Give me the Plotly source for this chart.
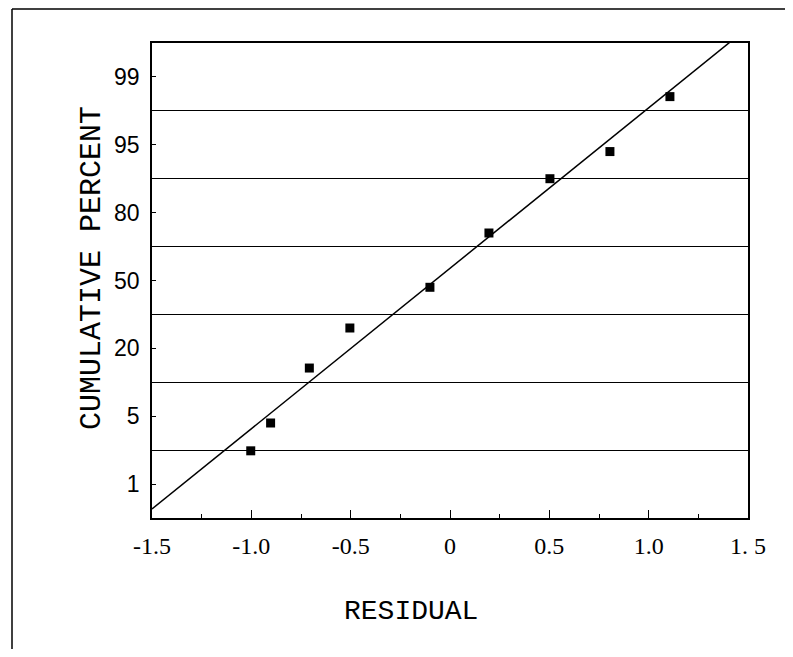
import plotly.graph_objects as go

# ---- data ----
residual = [-1.003, -0.903, -0.708, -0.504, -0.101, 0.196, 0.503, 0.805, 1.107]
# position on the (evenly spaced) probability scale, 0 = "1", 6 = "99"
prob_pos = [0.49, 0.90, 1.71, 2.30, 2.90, 3.70, 4.50, 4.90, 5.71]
y_tick_pos = [0, 1, 2, 3, 4, 5, 6]
y_tick_text = ["1", "5", "20", "50", "80", "95", "99"]
x_tick_vals = [-1.5, -1.0, -0.5, 0, 0.5, 1.0, 1.5]
x_tick_text = ["-1.5", "-1.0", "-0.5", "0", "0.5", "1.0", "1. 5"]
fit_intercept = 3.18
fit_slope = 2.365
x_range = [-1.5, 1.5]
y_range = [-0.5, 6.5]

OFF = 8  # page body margin
W, H = 793 - 2 * OFF, 657 - 2 * OFF
ml, mt = 152 - OFF, 43 - OFF
mr = W - (748 - OFF)
mb = H - (518 - OFF)
pw, ph = W - ml - mr, H - mt - mb

def px(x):  # screen pixel x -> paper
    return (x - OFF - ml) / pw

def py(y):  # screen pixel y -> paper
    return (H - mb - (y - OFF)) / ph

fig = go.Figure()

fit_x = x_range
fit_y = [fit_intercept + fit_slope * v for v in fit_x]
fig.add_trace(go.Scatter(x=fit_x, y=fit_y, mode="lines",
                         line=dict(color="black", width=1.5),
                         hoverinfo="skip", showlegend=False))
fig.add_trace(go.Scatter(x=residual, y=prob_pos, mode="markers",
                         marker=dict(symbol="square", size=9, color="black"),
                         showlegend=False))

fig.update_layout(
    width=W, height=H,
    margin=dict(l=ml, r=mr, t=mt, b=mb),
    paper_bgcolor="white", plot_bgcolor="white",
    xaxis=dict(range=x_range, tickvals=x_tick_vals, ticktext=x_tick_text,
               ticks="inside", ticklen=8, tickcolor="black", tickwidth=1.2,
               minor=dict(dtick=0.25, tick0=0, ticks="inside", ticklen=4,
                          tickcolor="black", showgrid=False),
               showgrid=False, zeroline=False,
               showline=True, linecolor="black", linewidth=1.5, mirror=True,
               tickfont=dict(family="Liberation Serif", size=24, color="black"),
               ticklabelstandoff=5),
    yaxis=dict(range=y_range, tickvals=y_tick_pos, ticktext=y_tick_text,
               ticks="inside", ticklen=4, tickcolor="black", tickwidth=1,
               showgrid=False, zeroline=False,
               minor=dict(tick0=0.5, dtick=1, showgrid=True, gridcolor="black",
                          gridwidth=1, ticks=""),
               showline=True, linecolor="black", linewidth=1.5, mirror=True,
               tickfont=dict(family="Liberation Sans", size=23, color="black"),
               ticklabelstandoff=6),
    annotations=[
        dict(text="RESIDUAL", xref="paper", yref="paper", x=px(411), y=py(611),
             showarrow=False, xanchor="center", yanchor="middle",
             font=dict(family="Liberation Mono", size=28, color="black")),
        dict(text="CUMULATIVE PERCENT", xref="paper", yref="paper", x=px(92), y=py(268),
             showarrow=False, xanchor="center", yanchor="middle", textangle=-90,
             font=dict(family="Liberation Mono", size=30, color="black")),
    ],
    shapes=[
        dict(type="line", xref="paper", yref="paper", x0=px(12), x1=px(12),
             y0=py(9), y1=py(H + OFF), line=dict(color="black", width=1.5)),
        dict(type="line", xref="paper", yref="paper", x0=px(12), x1=px(W + OFF),
             y0=py(9), y1=py(9), line=dict(color="black", width=1.5)),
    ],
)

fig.write_html("out.html")
